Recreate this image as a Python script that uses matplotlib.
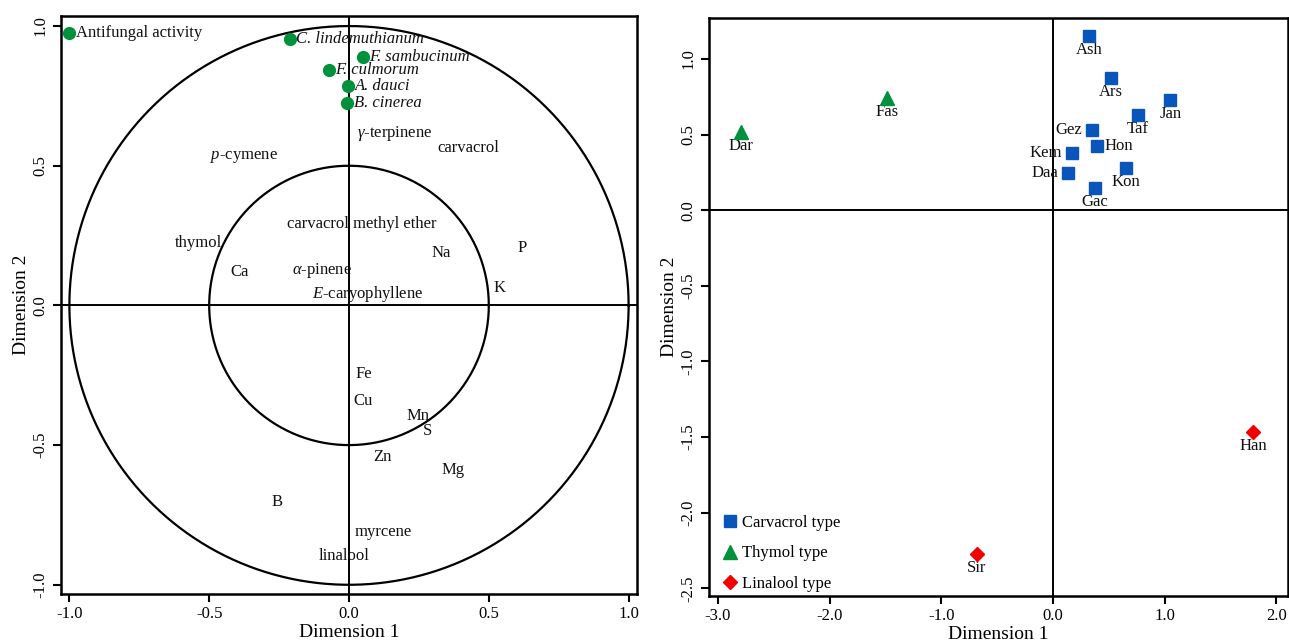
import numpy as np
import matplotlib
matplotlib.use("Agg")
import matplotlib.pyplot as plt

plt.rcParams['font.family'] = ['Liberation Serif', 'DejaVu Serif']
plt.rcParams['mathtext.fontset'] = 'custom'
plt.rcParams['mathtext.rm'] = 'Liberation Serif'
plt.rcParams['mathtext.it'] = 'Liberation Serif:italic'
plt.rcParams['mathtext.bf'] = 'Liberation Serif:bold'

# ---------------- Left panel data (correlation circle) ----------------
activity_names = ["Antifungal activity", "C. lindemuthianum", "F. sambucinum",
                  "F. culmorum", "A. dauci", "B. cinerea"]
activity_italic = [False, True, True, True, True, True]
activity_d1 = [-1.00, -0.212, 0.051, -0.073, -0.003, -0.006]
activity_d2 = [0.975, 0.952, 0.890, 0.843, 0.786, 0.726]

var_names = [r"$\gamma$-terpinene", "carvacrol", r"$p$-cymene", "carvacrol methyl ether",
             "thymol", "Na", "P", "Ca", r"$\alpha$-pinene", "K", r"$E$-caryophyllene",
             "Fe", "Cu", "Mn", "S", "Zn", "Mg", "B", "myrcene", "linalool"]
var_d1 = [0.163, 0.426, -0.375, 0.045, -0.538, 0.330, 0.620, -0.391, -0.096, 0.538, 0.067,
          0.053, 0.051, 0.247, 0.282, 0.118, 0.372, -0.256, 0.124, -0.018]
var_d2 = [0.614, 0.565, 0.531, 0.292, 0.224, 0.188, 0.206, 0.119, 0.126, 0.062, 0.042,
          -0.246, -0.342, -0.395, -0.451, -0.544, -0.589, -0.702, -0.810, -0.898]

circle_radii = [1.0, 0.5]

# ---------------- Right panel data (samples) ----------------
carv_names = ["Ash", "Ars", "Jan", "Taf", "Gez", "Hon", "Kem", "Kon", "Daa", "Gac"]
carv_d1 = [0.32, 0.52, 1.05, 0.76, 0.35, 0.39, 0.17, 0.65, 0.13, 0.375]
carv_d2 = [1.15, 0.876, 0.73, 0.632, 0.53, 0.427, 0.375, 0.28, 0.244, 0.146]

thym_names = ["Fas", "Dar"]
thym_d1 = [-1.49, -2.79]
thym_d2 = [0.74, 0.515]

lina_names = ["Han", "Sir"]
lina_d1 = [1.79, -0.685]
lina_d2 = [-1.467, -2.27]

group_labels = ["Carvacrol type", "Thymol type", "Linalool type"]

# label placement (style)
label_side = {"Gez": "left", "Kem": "left", "Daa": "left", "Hon": "right"}

W, H = 1289, 641
fig = plt.figure(figsize=(W / 100, H / 100), dpi=100)

GREEN = "#00913c"
BLUE = "#0a55b9"
RED = "#f00000"
FS = 12


def style_axes(ax):
    for s in ax.spines.values():
        s.set_linewidth(1.8)
    ax.tick_params(direction='out', length=6, width=1.5, labelsize=12, pad=3)
    ax.tick_params(axis='y', labelrotation=90)
    for lab in ax.get_yticklabels():
        lab.set_va('center')


# ---------------- Left panel ----------------
ax1 = fig.add_axes([61 / W, 1 - 594 / H, 576 / W, 578 / H])
ax1.set_xlim(-1.03, 1.03)
ax1.set_ylim(-1.033, 1.036)
theta = np.linspace(0, 2 * np.pi, 400)
for r in circle_radii:
    ax1.plot(r * np.cos(theta), r * np.sin(theta), color='black', lw=1.6)
ax1.axhline(0, color='black', lw=1.4)
ax1.axvline(0, color='black', lw=1.4)

ax1.plot(activity_d1, activity_d2, 'o', color=GREEN, ms=8.5, mec=GREEN, zorder=5)
for n, x, y, it in zip(activity_names, activity_d1, activity_d2, activity_italic):
    ax1.annotate(n, (x, y), xytext=(4.5, 0), textcoords='offset points',
                 ha='left', va='center', fontsize=FS,
                 fontstyle='italic' if it else 'normal', color='#111111')

for n, x, y in zip(var_names, var_d1, var_d2):
    ax1.text(x, y, n, ha='center', va='center', fontsize=FS, color='#111111')

ax1.set_xticks([-1.0, -0.5, 0.0, 0.5, 1.0])
ax1.set_yticks([-1.0, -0.5, 0.0, 0.5, 1.0])
ax1.set_xticklabels(["-1.0", "-0.5", "0.0", "0.5", "1.0"])
ax1.set_yticklabels(["-1.0", "-0.5", "0.0", "0.5", "1.0"])
ax1.set_xlabel("Dimension 1", fontsize=14, labelpad=1)
ax1.set_ylabel("Dimension 2", fontsize=14, labelpad=2)
style_axes(ax1)

# ---------------- Right panel ----------------
ax2 = fig.add_axes([709 / W, 1 - 596 / H, 578.6 / W, 578 / H])
ax2.set_xlim(-3.08, 2.10)
ax2.set_ylim(-2.55, 1.27)
ax2.axhline(0, color='black', lw=1.4)
ax2.axvline(0, color='black', lw=1.4)

h1, = ax2.plot(carv_d1, carv_d2, 's', color=BLUE, ms=8.3, mec=BLUE, ls='none', zorder=5)
h2, = ax2.plot(thym_d1, thym_d2, '^', color=GREEN, ms=10, mec=GREEN, ls='none', zorder=5)
h3, = ax2.plot(lina_d1, lina_d2, 'D', color=RED, ms=7, mec=RED, ls='none', zorder=5)

for names, xs, ys in [(carv_names, carv_d1, carv_d2), (thym_names, thym_d1, thym_d2),
                      (lina_names, lina_d1, lina_d2)]:
    for n, x, y in zip(names, xs, ys):
        side = label_side.get(n, "below")
        if side == "left":
            ax2.annotate(n, (x, y), xytext=(-7, 0), textcoords='offset points',
                         ha='right', va='center', fontsize=FS, color='#111111')
        elif side == "right":
            ax2.annotate(n, (x, y), xytext=(6, 0), textcoords='offset points',
                         ha='left', va='center', fontsize=FS, color='#111111')
        else:
            ax2.annotate(n, (x, y), xytext=(0, -4.5), textcoords='offset points',
                         ha='center', va='top', fontsize=FS, color='#111111')

ax2.legend([h1, h2, h3], group_labels, loc='lower left', frameon=False, fontsize=FS,
           handlelength=0.6, handletextpad=0.45, labelspacing=0.85,
           borderaxespad=0.0, bbox_to_anchor=(0.016, -0.004))

ax2.set_xticks([-3.0, -2.0, -1.0, 0.0, 1.0, 2.0])
ax2.set_xticklabels(["-3.0", "-2.0", "-1.0", "0.0", "1.0", "2.0"])
ax2.set_yticks([-2.5, -2.0, -1.5, -1.0, -0.5, 0.0, 0.5, 1.0])
ax2.set_yticklabels(["-2.5", "-2.0", "-1.5", "-1.0", "-0.5", "0.0", "0.5", "1.0"])
ax2.set_xlabel("Dimension 1", fontsize=14, labelpad=1)
ax2.set_ylabel("Dimension 2", fontsize=14, labelpad=2)
style_axes(ax2)

fig.savefig("out.png", dpi=100)
